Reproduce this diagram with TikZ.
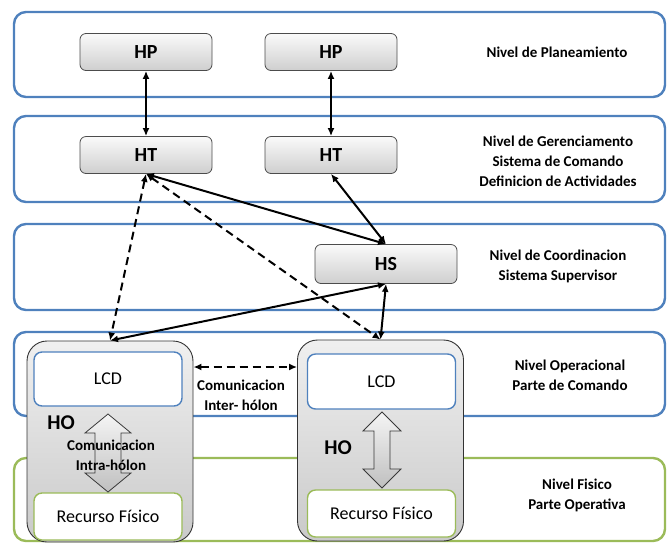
\documentclass[tikz,border=0pt]{standalone}
\usepackage{fontspec}
\setmainfont{Carlito}
\usetikzlibrary{arrows.meta}
\definecolor{layerblue}{RGB}{79,129,189}
\definecolor{layergreen}{RGB}{155,187,89}
\begin{document}
\begin{tikzpicture}[x=1pt,y=-1pt,
  layer/.style={draw=layerblue,line width=2.4pt,rounded corners=12pt},
  holonbox/.style={draw=gray!60!black,line width=0.8pt,rounded corners=6pt,top color=gray!4,bottom color=gray!38,
    minimum width=132pt,minimum height=37pt,font=\fontsize{20}{22}\selectfont\bfseries},
  opbox/.style={draw=gray!40!black,line width=0.9pt,rounded corners=20pt,top color=gray!12,bottom color=gray!42,
    minimum width=166pt,minimum height=201pt},
  innerbox/.style={draw=layerblue,fill=white,line width=1.4pt,rounded corners=8pt,
    minimum width=148pt,font=\fontsize{18}{20}\selectfont},
  levellabel/.style={align=center,font=\fontsize{15}{20}\selectfont\bfseries},
  link/.style={{Latex[length=8pt,width=7pt]}-{Latex[length=8pt,width=7pt]},line width=2pt},
  dlink/.style={link,dash pattern=on 8pt off 5pt},
  bigarrow/.style={draw=gray!45!black,line width=0.8pt,top color=gray!8,bottom color=gray!50}]
\useasboundingbox (0,0) rectangle (668,542);
% levels
\draw[layer] (14,12) rectangle (665,97);
\draw[layer] (14,116) rectangle (665,202);
\draw[layer] (14,224) rectangle (665,310);
\draw[layer] (14,332) rectangle (665,416);
\draw[layer,draw=layergreen] (14,458) rectangle (665,541);
\node[levellabel] (lplan) at (557,52) {Nivel de Planeamiento};
\node[levellabel] (lger) at (558,161) {Nivel de Gerenciamento\\Sistema de Comando\\Definicion de Actividades};
\node[levellabel] (lcoord) at (558,266) {Nivel de Coordinacion\\Sistema Supervisor};
\node[levellabel] (loper) at (570,375) {Nivel Operacional\\Parte de Comando};
\node[levellabel] (lfis) at (577,495) {Nivel Fisico\\Parte Operativa};
% holons
\node[holonbox] (hp1) at (146,52) {HP};
\node[holonbox] (hp2) at (331,52) {HP};
\node[holonbox] (ht1) at (146,155) {HT};
\node[holonbox] (ht2) at (331,155) {HT};
\node[holonbox,minimum width=142pt,minimum height=39pt] (hs) at (386,264) {HS};
% operational holons
\node[opbox] (ho1) at (110,441.5) {};
\node[opbox] (ho2) at (380.5,440.5) {};
\node[innerbox,minimum height=54pt] (lcd1) at (108,379) {LCD};
\node[innerbox,minimum height=55pt] (lcd2) at (381.5,381.5) {LCD};
\node[innerbox,draw=layergreen,minimum height=47pt] (rf1) at (108,516.5) {Recurso Físico};
\node[innerbox,draw=layergreen,minimum height=47pt] (rf2) at (381.5,513.5) {Recurso Físico};
\foreach \cx/\ya/\yb/\hw/\sw in {108/414/492/23/13, 382/412/488/19/8}
  \path[bigarrow] (\cx,\ya) -- (\cx+\hw,\ya+19) -- (\cx+\sw,\ya+19) -- (\cx+\sw,\yb-19)
    -- (\cx+\hw,\yb-19) -- (\cx,\yb) -- (\cx-\hw,\yb-19) -- (\cx-\sw,\yb-19)
    -- (\cx-\sw,\ya+19) -- (\cx-\hw,\ya+19) -- cycle;
\node[font=\fontsize{21}{22}\selectfont\bfseries] (ho1lab) at (61,423) {HO};
\node[font=\fontsize{21}{22}\selectfont\bfseries] (ho2lab) at (338,448) {HO};
\node[levellabel] (intra) at (111,455) {Comunicacion\\Intra-hólon};
\node[levellabel] (inter) at (241,395) {Comunicacion\\Inter- hólon};
% connections
\draw[link] (hp1) -- (ht1);
\draw[link] (hp2) -- (ht2);
\draw[link] (ht1.south) -- (hs.north);
\draw[link] (ht2.south) -- (hs.north);
\draw[link] (hs.south) -- (ho1.north);
\draw[link] (hs.south) -- (ho2.north);
\draw[dlink] (ht1.south) -- (ho1.north);
\draw[dlink] (ht1.south) -- (ho2.north);
\draw[dlink] (ho1.east |- 0,367) -- (ho2.west |- 0,367);
\end{tikzpicture}
\end{document}
